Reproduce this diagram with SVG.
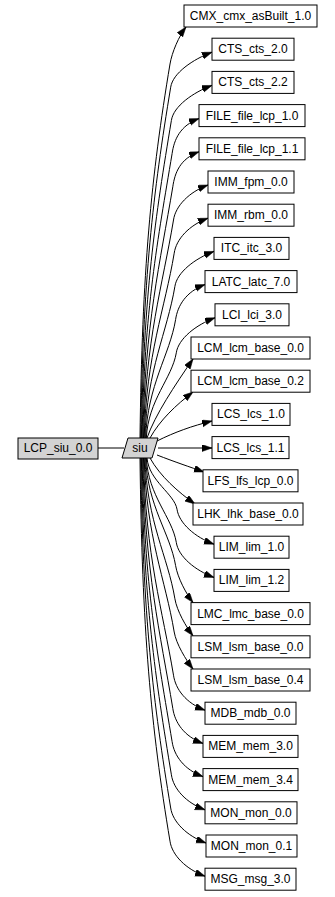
<svg xmlns="http://www.w3.org/2000/svg" width="335" height="897" viewBox="0 0 335 897">
<style>
.n rect, .n polygon { fill: #ffffff; stroke: #000000; stroke-width: 1; }
.g rect, .g polygon { fill: #d3d3d3; }
text { font-family: "Liberation Sans", Arial, sans-serif; font-size: 12px; text-anchor: middle; fill: #000000; }
#edges path { fill: none; stroke: #000000; stroke-width: 1; }
</style>
<defs>
<marker id="arr" markerUnits="userSpaceOnUse" markerWidth="10" markerHeight="8" refX="10" refY="3.5" orient="auto">
<path d="M0,0 L10,3.5 L0,7 z" fill="#000000" stroke="#000000" stroke-width="0.5"/>
</marker>
</defs>
<rect x="0" y="0" width="335" height="897" fill="#ffffff"/>
<g id="edges">
<path d="M98,448 L124,448"/>
<path marker-end="url(#arr)" d="M140,438 C142,270 151.3,176.2 170,64 C172,52 179,36 186,27"/>
<path marker-end="url(#arr)" d="M140.7,438 C142.7,280 153.2,192.4 170.7,87.2 C172.7,73.2 193,59.2 212,52.2"/>
<path marker-end="url(#arr)" d="M141.4,438 C143.4,295.1 155.5,215.7 171.4,120.4 C173.4,106.4 193,92.4 212,85.4"/>
<path marker-end="url(#arr)" d="M142.1,438 C144.1,310 157.9,238.9 172.1,153.6 C174.1,139.6 180,125.6 199,118.6"/>
<path marker-end="url(#arr)" d="M142.8,438 C144.8,325 160.2,262.2 172.8,186.8 C174.8,172.8 180,158.8 199,151.8"/>
<path marker-end="url(#arr)" d="M143.5,438 C145.5,339.9 162.6,285.4 173.5,220 C175.5,206 189,192 208,185"/>
<path marker-end="url(#arr)" d="M144.2,438 C146.2,354.8 165,308.6 174.2,253.2 C176.2,239.2 189,225.2 208,218.2"/>
<path marker-end="url(#arr)" d="M144.9,438 C146.9,369.8 167.3,331.9 174.9,286.4 C176.9,272.4 195,258.4 214,251.4"/>
<path marker-end="url(#arr)" d="M145.6,438 C147.6,384.7 169.7,355.1 175.6,319.6 C177.6,305.6 186,291.6 205,284.6"/>
<path marker-end="url(#arr)" d="M146.3,438 C148.3,399.7 172,378.4 176.3,352.8 C178.3,338.8 196,324.8 215,317.8"/>
<path marker-end="url(#arr)" d="M147,438 C155,415 175,385 193,359"/>
<path marker-end="url(#arr)" d="M150,438 C160,420 176,405 193,392"/>
<path marker-end="url(#arr)" d="M157,441 C175,432 192,426 212,421"/>
<path marker-end="url(#arr)" d="M158,448 L212,448"/>
<path marker-end="url(#arr)" d="M157,455 C175,462 190,467 204,472"/>
<path marker-end="url(#arr)" d="M150,458 C160,476 178,492 195,504"/>
<path marker-end="url(#arr)" d="M147,458 C149,481 174.4,493.8 177,509.2 C179,523.2 195,537.2 214,544.2"/>
<path marker-end="url(#arr)" d="M146.3,458 C148.3,496 172.1,517.1 176.3,542.4 C178.3,556.4 195,570.4 214,577.4"/>
<path marker-end="url(#arr)" d="M145.6,458 C147.6,506.4 170.2,533.3 175.6,565.6 C177.6,577.6 186,593.6 193,602.6"/>
<path marker-end="url(#arr)" d="M144.9,458 C146.9,521.4 167.9,556.6 174.9,598.8 C176.9,610.8 186,626.8 193,635.8"/>
<path marker-end="url(#arr)" d="M144.2,458 C146.2,536.3 165.5,579.8 174.2,632 C176.2,644 186,660 193,669"/>
<path marker-end="url(#arr)" d="M143.5,458 C145.5,555.7 162.6,610 173.5,675.2 C175.5,689.2 186,703.2 205,710.2"/>
<path marker-end="url(#arr)" d="M142.8,458 C144.8,570.7 160.3,633.3 172.8,708.4 C174.8,722.4 184,736.4 203,743.4"/>
<path marker-end="url(#arr)" d="M142.1,458 C144.1,585.6 157.9,656.5 172.1,741.6 C174.1,755.6 184,769.6 203,776.6"/>
<path marker-end="url(#arr)" d="M141.4,458 C143.4,600.6 155.6,679.8 171.4,774.8 C173.4,788.8 186,802.8 205,809.8"/>
<path marker-end="url(#arr)" d="M140.7,458 C142.7,615.5 153.2,703 170.7,808 C172.7,822 187,836 206,843"/>
<path marker-end="url(#arr)" d="M140,458 C142,630.4 150.8,726.2 170,841.2 C172,855.2 186,869.2 205,876.2"/>
</g>
<g id="LCP_siu_0.0" class="n g"><rect x="18" y="438" width="80" height="21"/><text x="58" y="452">LCP_siu_0.0</text></g>
<g id="siu" class="n g"><polygon points="128,438 158,438 152,458 122,458"/><text x="140" y="452">siu</text></g>
<g id="CMX_cmx_asBuilt_1.0" class="n"><rect x="184" y="5" width="133" height="22"/><text x="250.5" y="20">CMX_cmx_asBuilt_1.0</text></g>
<g id="CTS_cts_2.0" class="n"><rect x="212" y="38.2" width="82" height="22"/><text x="253" y="53.2">CTS_cts_2.0</text></g>
<g id="CTS_cts_2.2" class="n"><rect x="212" y="71.4" width="82" height="22"/><text x="253" y="86.4">CTS_cts_2.2</text></g>
<g id="FILE_file_lcp_1.0" class="n"><rect x="199" y="104.6" width="106" height="22"/><text x="252" y="119.6">FILE_file_lcp_1.0</text></g>
<g id="FILE_file_lcp_1.1" class="n"><rect x="199" y="137.8" width="106" height="22"/><text x="252" y="152.8">FILE_file_lcp_1.1</text></g>
<g id="IMM_fpm_0.0" class="n"><rect x="208" y="171" width="86" height="22"/><text x="251" y="186">IMM_fpm_0.0</text></g>
<g id="IMM_rbm_0.0" class="n"><rect x="208" y="204.2" width="86" height="22"/><text x="251" y="219.2">IMM_rbm_0.0</text></g>
<g id="ITC_itc_3.0" class="n"><rect x="214" y="237.4" width="75" height="22"/><text x="251.5" y="252.4">ITC_itc_3.0</text></g>
<g id="LATC_latc_7.0" class="n"><rect x="205" y="270.6" width="92" height="22"/><text x="251" y="285.6">LATC_latc_7.0</text></g>
<g id="LCI_lci_3.0" class="n"><rect x="215" y="303.8" width="74" height="22"/><text x="252" y="318.8">LCI_lci_3.0</text></g>
<g id="LCM_lcm_base_0.0" class="n"><rect x="191" y="337" width="119" height="22"/><text x="250.5" y="352">LCM_lcm_base_0.0</text></g>
<g id="LCM_lcm_base_0.2" class="n"><rect x="191" y="370.2" width="119" height="22"/><text x="250.5" y="385.2">LCM_lcm_base_0.2</text></g>
<g id="LCS_lcs_1.0" class="n"><rect x="212" y="403.4" width="78" height="22"/><text x="251" y="418.4">LCS_lcs_1.0</text></g>
<g id="LCS_lcs_1.1" class="n"><rect x="212" y="436.6" width="77" height="22"/><text x="250.5" y="451.6">LCS_lcs_1.1</text></g>
<g id="LFS_lfs_lcp_0.0" class="n"><rect x="203" y="469.8" width="95" height="22"/><text x="250.5" y="484.8">LFS_lfs_lcp_0.0</text></g>
<g id="LHK_lhk_base_0.0" class="n"><rect x="193" y="503" width="110" height="22"/><text x="248" y="518">LHK_lhk_base_0.0</text></g>
<g id="LIM_lim_1.0" class="n"><rect x="214" y="536.2" width="75" height="22"/><text x="251.5" y="551.2">LIM_lim_1.0</text></g>
<g id="LIM_lim_1.2" class="n"><rect x="214" y="569.4" width="75" height="22"/><text x="251.5" y="584.4">LIM_lim_1.2</text></g>
<g id="LMC_lmc_base_0.0" class="n"><rect x="191" y="602.6" width="119" height="22"/><text x="250.5" y="617.6">LMC_lmc_base_0.0</text></g>
<g id="LSM_lsm_base_0.0" class="n"><rect x="191" y="635.8" width="119" height="22"/><text x="250.5" y="650.8">LSM_lsm_base_0.0</text></g>
<g id="LSM_lsm_base_0.4" class="n"><rect x="191" y="669" width="119" height="22"/><text x="250.5" y="684">LSM_lsm_base_0.4</text></g>
<g id="MDB_mdb_0.0" class="n"><rect x="205" y="702.2" width="91" height="22"/><text x="250.5" y="717.2">MDB_mdb_0.0</text></g>
<g id="MEM_mem_3.0" class="n"><rect x="203" y="735.4" width="95" height="22"/><text x="250.5" y="750.4">MEM_mem_3.0</text></g>
<g id="MEM_mem_3.4" class="n"><rect x="203" y="768.6" width="95" height="22"/><text x="250.5" y="783.6">MEM_mem_3.4</text></g>
<g id="MON_mon_0.0" class="n"><rect x="205" y="801.8" width="92" height="22"/><text x="251" y="816.8">MON_mon_0.0</text></g>
<g id="MON_mon_0.1" class="n"><rect x="206" y="835" width="91" height="22"/><text x="251.5" y="850">MON_mon_0.1</text></g>
<g id="MSG_msg_3.0" class="n"><rect x="205" y="868.2" width="91" height="22"/><text x="250.5" y="883.2">MSG_msg_3.0</text></g>
</svg>
